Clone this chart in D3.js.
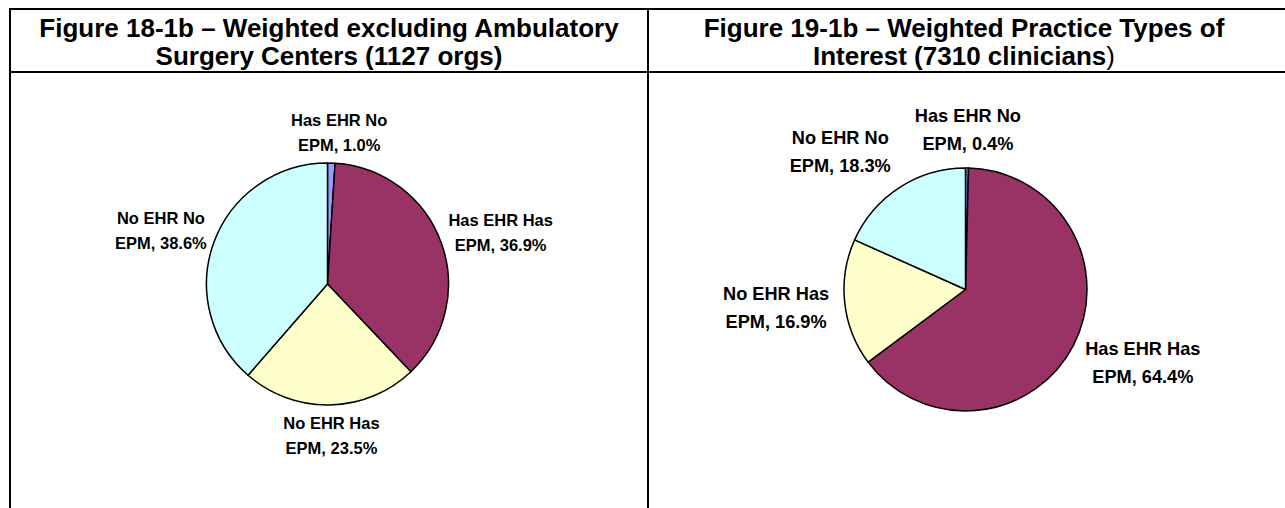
<!DOCTYPE html>
<html>
<head>
<meta charset="utf-8">
<script src="https://cdn.jsdelivr.net/npm/d3@7"></script>
<style>
  body { margin: 0; background: #fff; }
  svg text { font-family: "Liberation Sans", Arial, sans-serif; font-weight: bold; fill: #000; }
</style>
</head>
<body>
<div id="chart"></div>
<script>
// categories shared by both pies (clockwise from 12 o'clock)
const categories = ["Has EHR No EPM", "Has EHR Has EPM", "No EHR Has EPM", "No EHR No EPM"];
// Figure 18-1b, share of organisations (%)
const orgShares = [1.0, 36.9, 23.5, 38.6];
// Figure 19-1b, share of clinicians (%)
const clinicianShares = [0.4, 64.4, 16.9, 18.3];
const leftTitle = ["Figure 18-1b \u2013 Weighted excluding Ambulatory", "Surgery Centers (1127 orgs)"];
const rightTitle = ["Figure 19-1b \u2013 Weighted Practice Types of", "Interest (7310 clinicians"];

const W = 1285, H = 508;
const color = d3.scaleOrdinal().domain(categories)
  .range(["#9999ff", "#993366", "#ffffcc", "#ccffff"]);

const svg = d3.select("#chart").append("svg")
  .attr("width", W).attr("height", H);

// table frame
const grid = svg.append("g").attr("stroke", "#000").attr("stroke-width", 2);
grid.append("line").attr("x1", 9).attr("x2", W).attr("y1", 9).attr("y2", 9);
grid.append("line").attr("x1", 9).attr("x2", W).attr("y1", 72).attr("y2", 72);
grid.append("line").attr("x1", 10).attr("x2", 10).attr("y1", 8).attr("y2", H);
grid.append("line").attr("x1", 648).attr("x2", 648).attr("y1", 8).attr("y2", H);

function drawTitle(lines, cx, closeParen) {
  const t = svg.append("g");
  lines.forEach((s, i) => {
    const txt = t.append("text")
      .attr("x", cx).attr("y", 37 + i * 28)
      .attr("text-anchor", "middle")
      .style("font-size", "26px");
    txt.append("tspan").text(s);
    if (closeParen && i === lines.length - 1) {
      txt.append("tspan").style("font-weight", "normal").text(")");
    }
  });
}
drawTitle(leftTitle, 329, false);
drawTitle(rightTitle, 964, true);

function drawPie(values, cx, cy, r, fontSize, lineGap, gap, nudges) {
  const data = categories.map((c, i) => ({ name: c, v: values[i] }));
  const arcs = d3.pie().sort(null).value(d => d.v)(data);
  const arc = d3.arc().innerRadius(0).outerRadius(r);
  const g = svg.append("g").attr("transform", `translate(${cx},${cy})`);

  g.selectAll("path").data(arcs).enter().append("path")
    .attr("d", arc)
    .attr("fill", d => color(d.data.name))
    .attr("stroke", "#000")
    .attr("stroke-width", 1.5)
    .attr("stroke-linejoin", "round");

  const labels = g.selectAll("text.lab").data(arcs).enter().append("text")
    .attr("class", "lab")
    .attr("text-anchor", "middle")
    .style("font-size", fontSize + "px");
  labels.append("tspan").attr("class", "l1")
    .text(d => d.data.name.split(" ").slice(0, 3).join(" "));
  labels.append("tspan").attr("class", "l2")
    .text(d => d.data.name.split(" ").slice(3).join(" ") + ", " + d3.format(".1f")(d.data.v) + "%");

  labels.each(function(d, i) {
    const el = d3.select(this);
    const w = Math.max(el.select(".l1").node().getComputedTextLength(),
                       el.select(".l2").node().getComputedTextLength());
    const h = lineGap + fontSize * 0.9;
    const a = (d.startAngle + d.endAngle) / 2;
    const sx = Math.sin(a), sy = -Math.cos(a);
    const nx = nudges[i] ? nudges[i][0] : 0;
    const ny = nudges[i] ? nudges[i][1] : 0;
    const lx = sx * (r + gap) + sx * w / 2 + nx;
    const ly = sy * (r + gap) + sy * h / 2 + ny;
    const base = fontSize * 0.358;
    el.select(".l1").attr("x", lx).attr("y", ly - lineGap / 2 + base);
    el.select(".l2").attr("x", lx).attr("y", ly + lineGap / 2 + base);
  });
}

drawPie(orgShares, 327.5, 284, 121, 16.5, 25, 11, [[6, 0], null, null, null]);
drawPie(clinicianShares, 965.5, 289.5, 121.5, 18.2, 28, 16, [null, [4, 0], null, [-23, -4]]);
</script>
</body>
</html>
